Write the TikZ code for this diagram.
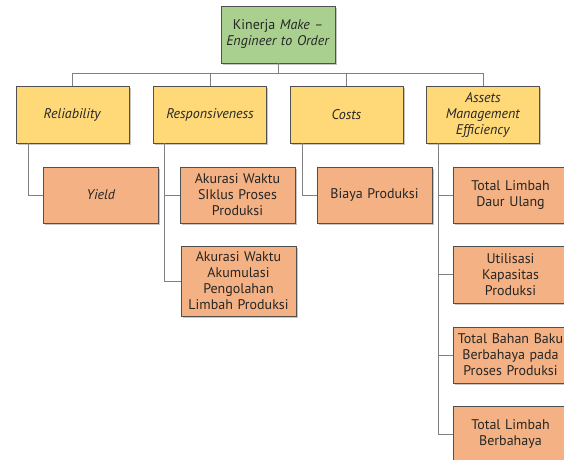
\documentclass[tikz,border=0pt]{standalone}
\usepackage{fontspec}
\setmainfont{PT Sans}
\usetikzlibrary{shadows}
\definecolor{topgreen}{HTML}{A9D08E}
\definecolor{lvlyellow}{HTML}{FFD978}
\definecolor{lvlorange}{HTML}{F4B183}
\definecolor{edgegray}{HTML}{505050}
\definecolor{linegray}{HTML}{808080}
\tikzset{
  boxbase/.style={draw=edgegray, line width=0.8pt, align=center, inner sep=1pt,
    font=\fontsize{14}{16}\selectfont, text=black!85,
    drop shadow={shadow xshift=1.5pt, shadow yshift=-1.5pt, fill=black!50, opacity=.45}},
  topbox/.style={boxbase, fill=topgreen, minimum width=114pt, minimum height=57pt, text width=112pt},
  catbox/.style={boxbase, fill=lvlyellow, minimum width=113pt, minimum height=57pt, text width=111pt},
  leafbox/.style={boxbase, fill=lvlorange, minimum width=113pt, minimum height=56pt, text width=113pt},
  conn/.style={draw=linegray, line width=1pt}
}
\begin{document}
\begin{tikzpicture}[x=1pt,y=-1pt]
\useasboundingbox (0,0) rectangle (564,459);
\clip (0,0) rectangle (564,459);
\fill[white] (0,0) rectangle (564,459);
% top
\node[topbox] (top) at (278,34.5) {Kinerja \textit{Make –}\\\textit{Engineer to Order}};
% categories
\node[catbox] (rel) at (72.5,114.5) {\textit{Reliability}};
\node[catbox] (res) at (210,114.5) {\textit{Responsiveness}};
\node[catbox] (cst) at (346.5,114.5) {\textit{Costs}};
\node[catbox] (ame) at (483,114.5) {\textit{Assets}\\\textit{Management}\\\textit{Efficiency}};
% bus
\coordinate (busL) at (72.5,73);
\coordinate (busR) at (483,73);
\coordinate (busT) at (278,73);
\draw[conn] (top.south) -- (busT);
\draw[conn] (busL) -- (busR);
\draw[conn] (busL) -- (rel.north);
\draw[conn] (res.north |- busL) -- (res.north);
\draw[conn] (cst.north |- busL) -- (cst.north);
\draw[conn] (busR) -- (ame.north);
% leaves
\node[leafbox] (yld) at (101,195) {\textit{Yield}};
\node[leafbox] (sik) at (237.5,195) {Akurasi Waktu\\SIklus Proses\\Produksi};
\node[leafbox, minimum height=70pt] (aku) at (238.5,281) {Akurasi Waktu\\Akumulasi\\Pengolahan\\Limbah Produksi};
\node[leafbox] (bia) at (374.5,195) {Biaya Produksi};
\node[leafbox] (dau) at (510.5,195) {Total Limbah\\Daur Ulang};
\node[leafbox, minimum height=57pt] (uti) at (510.5,274.5) {Utilisasi\\Kapasitas\\Produksi};
\node[leafbox] (bah) at (510.5,355) {Total Bahan Baku\\Berbahaya pada\\Proses Produksi};
\node[leafbox] (ber) at (510.5,434) {Total Limbah\\Berbahaya};
% connectors
\coordinate (relS) at (28,143);
\coordinate (resS) at (164,143);
\coordinate (cstS) at (302,143);
\coordinate (ameS) at (438,143);
\draw[conn] (relS) |- (yld.west);
\draw[conn] (resS) |- (aku.west);
\draw[conn] (resS |- sik.west) -- (sik.west);
\draw[conn] (cstS) |- (bia.west);
\draw[conn] (ameS) |- (ber.west);
\draw[conn] (ameS |- dau.west) -- (dau.west);
\draw[conn] (ameS |- uti.west) -- (uti.west);
\draw[conn] (ameS |- bah.west) -- (bah.west);
\end{tikzpicture}
\end{document}
